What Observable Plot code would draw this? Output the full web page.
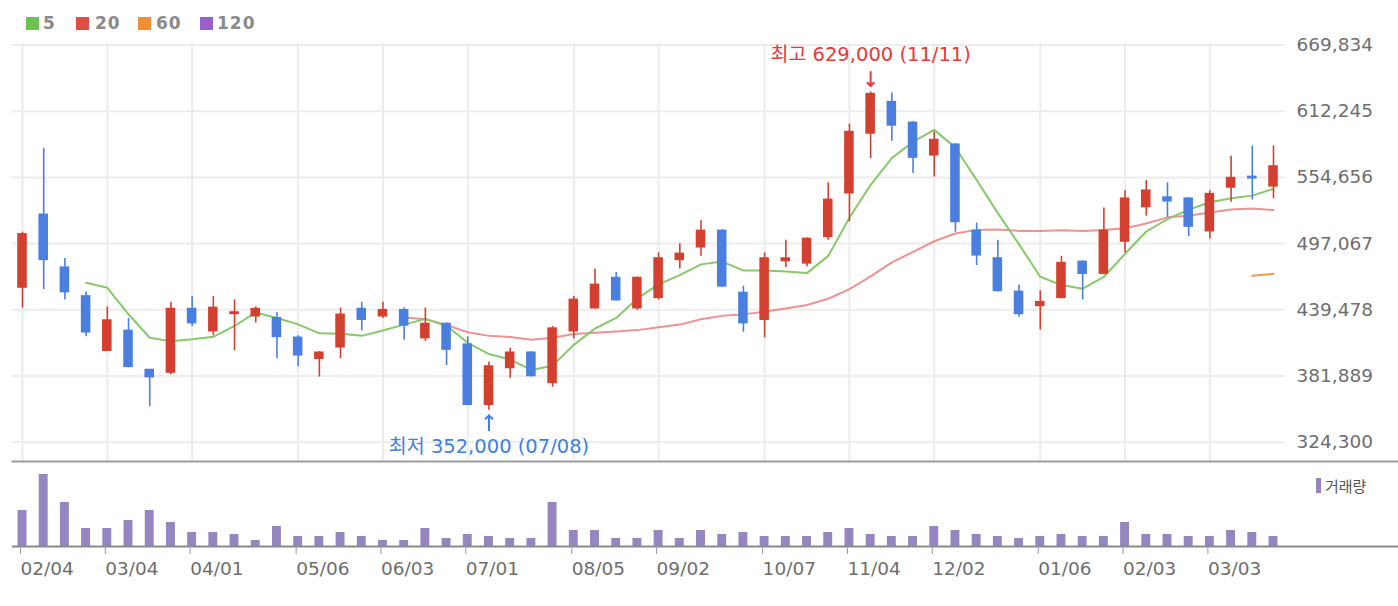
<!DOCTYPE html>
<html>
<head>
<meta charset="utf-8">
<script src="https://cdn.jsdelivr.net/npm/d3@7"></script>
<script src="https://cdn.jsdelivr.net/npm/@observablehq/plot@0.6"></script>
<style>
  html, body { margin: 0; padding: 0; background: #fff; }
  #wrap { position: relative; width: 1398px; height: 606px; overflow: hidden; font-family: "DejaVu Sans", sans-serif; }
  #legend { position: relative; width: 1398px; height: 34px; }
  .sw { position: absolute; top: 17px; width: 13px; height: 13px; }
  .lt { position: absolute; top: 14px; font: bold 17px "DejaVu Sans", sans-serif; color: #8a8a8a; letter-spacing: 1px; line-height: 19px; }
  #vlegend { position: absolute; left: 1316px; top: 476px; height: 20px; }
  #vlegend .bar { position: absolute; left: 0; top: 2px; width: 5px; height: 15px; background: #9585c0; }
  #vlegend .txt { position: absolute; left: 9px; top: 0; font: 15px "Noto Sans CJK KR", sans-serif; color: #555; white-space: nowrap; line-height: 19px; }
  svg { display: block; }
</style>
</head>
<body>
<div id="wrap">
  <div id="legend">
    <div class="sw" style="left:26px;background:#6fbf55"></div><div class="lt" style="left:43px">5</div>
    <div class="sw" style="left:76px;background:#dd4f42"></div><div class="lt" style="left:95px">20</div>
    <div class="sw" style="left:138px;background:#ee8f36"></div><div class="lt" style="left:156px">60</div>
    <div class="sw" style="left:200px;background:#9a5fc8"></div><div class="lt" style="left:217px">120</div>
  </div>
  <div id="price"></div>
  <div id="volume"></div>
  <div id="vlegend"><div class="bar"></div><div class="txt">거래량</div></div>
</div>
<script>
// ---- data (weekly candles, won) ----
const tickIdx = [0, 4, 8, 13, 17, 21, 26, 30, 35, 39, 43, 48, 52, 56];
const tickLabels = ["02/04","03/04","04/01","05/06","06/03","07/01","08/05","09/02","10/07","11/04","12/02","01/06","02/03","03/03"];
const yTicks = [324300, 381889, 439478, 497067, 554656, 612245, 669834];

const open = [459000,522000,476000,451000,404000,421000,387000,385000,440000,421000,
436000,434000,432000,415000,397000,407000,440000,434000,439000,415000,
427000,409000,357000,389000,402000,376000,421000,441000,467000,441000,
450000,483000,494000,508000,454000,431000,482000,480000,503000,541000,
593000,620000,602000,574000,583000,508000,484000,455000,443000,450000,
481000,471000,499000,529000,537000,536000,508000,546000,555000,547000];

const high = [507000,580000,484000,455000,442000,432000,387500,446000,451000,451000,
448000,442000,437000,417000,403000,441000,446000,446000,441000,441000,
428000,416000,394000,406000,403000,425000,451000,475000,472000,468000,
489000,497000,517000,509000,460000,489000,500000,502000,550000,601000,
629000,628000,603000,594000,584000,515000,500000,461000,456000,486000,
482000,528000,543000,552000,550000,537000,543000,573000,582000,582000];

const low = [441000,457000,448000,416000,403000,389000,355000,383000,425000,417000,
404000,428000,397000,390000,381000,397000,421000,432000,413000,412000,
391000,356000,352000,380000,381000,372000,414000,440000,447000,439000,
448000,475000,486000,459000,420000,415000,476000,477000,500000,516000,
571000,586000,558000,555000,507000,478000,455000,433000,422000,449000,
448000,470000,489000,521000,520000,503000,501000,533000,535000,536000];

const close = [505000,483000,455000,420000,430000,390000,381000,440000,428000,441000,
437000,440000,416000,400000,402000,435000,431000,439000,426000,427000,
405000,357000,390000,402000,382000,423000,448000,461000,448000,467000,
484000,488000,508000,460000,428000,484000,484000,501000,535000,594000,
627000,600000,572000,587000,516000,487000,456000,436000,446000,480000,
471000,508000,536000,543000,534000,512000,540000,554000,554000,564000];

// volume (thousand shares, relative)
const volume = [36,72,44,18,18,26,36,24,14,14,
12,6,20,10,10,14,10,6,6,18,
8,12,10,8,8,44,16,16,8,8,
16,8,16,12,14,10,10,10,14,18,
12,10,10,20,16,12,10,8,10,12,
10,10,24,12,12,10,10,16,14,10];

const ma5 = [null,null,null,463000,458600,435600,415200,412200,413800,416000,
425400,437200,432400,426800,419000,418600,416800,421400,426600,431600,
425600,410800,401000,396200,387200,390800,409000,423200,432400,449400,
461600,469600,479000,481400,473600,473600,472800,471400,486400,519600,
548200,571400,585600,596000,580400,552400,523600,496400,468200,461000,
457800,468200,488200,507600,518400,526600,533000,536600,538800,544800];

const ma20 = [null,null,null,null,null,null,null,null,null,null,
null,null,null,null,null,null,null,null,432800,431300,
426300,420000,416800,415900,413500,415100,418500,419500,420500,421800,
424200,426600,431200,434200,435500,437900,440600,443700,449100,457500,
468600,480700,489800,499100,505800,509000,509400,508100,508000,508700,
508000,509000,510400,514600,519900,521300,524100,526700,527700,526200];

const ma60 = new Array(58).fill(null).concat([469000, 470800]);

const annotations = [
  {i: 40, v: 629000, label: "최고 629,000 (11/11)", kind: "high"},
  {i: 22, v: 352000, label: "최저 352,000 (07/08)", kind: "low"}
];

// ---- build table ----
const RED = "#d4402f", BLUE = "#4a7fe0";
const rows = open.map((o, i) => ({
  i, open: o, high: high[i], low: low[i], close: close[i], vol: volume[i],
  ma5: ma5[i], ma20: ma20[i], ma60: ma60[i],
  col: close[i] >= o ? RED : BLUE
}));
const labelOf = new Map(tickIdx.map((t, k) => [t, tickLabels[k]]));
const hi = annotations.filter(d => d.kind === "high");
const lo = annotations.filter(d => d.kind === "low");
const W = 1398;
const xScale = {domain: [0, 59], range: [22, 1273]};
const textFont = "'DejaVu Sans', 'Noto Sans CJK KR', sans-serif";

const price = Plot.plot({
  width: W, height: 426,
  marginTop: 9, marginBottom: 0, marginLeft: 12, marginRight: 113,
  style: {fontFamily: "DejaVu Sans, sans-serif", background: "transparent", overflow: "visible"},
  x: {...xScale, axis: null},
  y: {domain: [324300, 669834], range: [407.7, 10.5], axis: null},
  color: {type: "identity"},
  marks: [
    Plot.gridX(tickIdx, {stroke: "#ececec", strokeOpacity: 1, strokeWidth: 2}),
    Plot.gridY(yTicks, {stroke: "#ececec", strokeOpacity: 1, strokeWidth: 2}),
    Plot.axisY(yTicks, {anchor: "right", tickSize: 0, tickPadding: 11, tickFormat: d3.format(","), fontSize: 18.5, fill: "#6e6e6e"}),
    Plot.line(rows, {x: "i", y: "ma20", stroke: "#ec8686", strokeWidth: 2, strokeOpacity: 0.9}),
    Plot.line(rows, {x: "i", y: "ma60", stroke: "#f09a45", strokeWidth: 2}),
    Plot.line(rows, {x: "i", y: "ma5", stroke: "#86c96a", strokeWidth: 2}),
    Plot.ruleX(rows, {x: "i", y1: "low", y2: "high", stroke: "col", strokeWidth: 1.6}),
    Plot.rect(rows, {x1: d => d.i - 0.225, x2: d => d.i + 0.225, y1: "open", y2: "close", fill: "col", insetTop: -0.9, insetBottom: -0.9}),
    Plot.text(hi, {x: "i", y: "v", text: "label", dy: -37, fill: "#e8393a", fontSize: 19.5, fontFamily: textFont}),
    Plot.vector(hi, {x: "i", y: "v", length: 14, rotate: 180, anchor: "end", dy: -6, stroke: "#e8393a", strokeWidth: 2, r: 4}),
    Plot.text(lo, {x: "i", y: "v", text: "label", dy: 36, fill: "#3f7fe0", fontSize: 19.5, fontFamily: textFont}),
    Plot.vector(lo, {x: "i", y: "v", length: 15, rotate: 0, anchor: "end", dy: 5, stroke: "#3f7fe0", strokeWidth: 2, r: 4})
  ]
});
document.getElementById("price").appendChild(price);

const vol = Plot.plot({
  width: W, height: 146,
  marginTop: 1, marginBottom: 60, marginLeft: 12, marginRight: 0,
  style: {fontFamily: "DejaVu Sans, sans-serif", background: "transparent"},
  x: {...xScale},
  y: {domain: [0, 80], range: [86, 6], axis: null},
  marks: [
    Plot.frame({anchor: "top", stroke: "#9c9c9c", strokeWidth: 2}),
    Plot.rect(rows, {x1: d => d.i - 0.21, x2: d => d.i + 0.21, y1: 0, y2: "vol", fill: "#9585c0"}),
    Plot.ruleY([0], {stroke: "#8a8a8a", strokeWidth: 2}),
    Plot.axisX(tickIdx, {anchor: "bottom", tickSize: 8, tickPadding: 7, tickFormat: i => labelOf.get(i), textAnchor: "start", dx: -2, fontSize: 18.5, fill: "#6e6e6e", stroke: "#999"})
  ]
});
document.getElementById("volume").appendChild(vol);
</script>
</body>
</html>
